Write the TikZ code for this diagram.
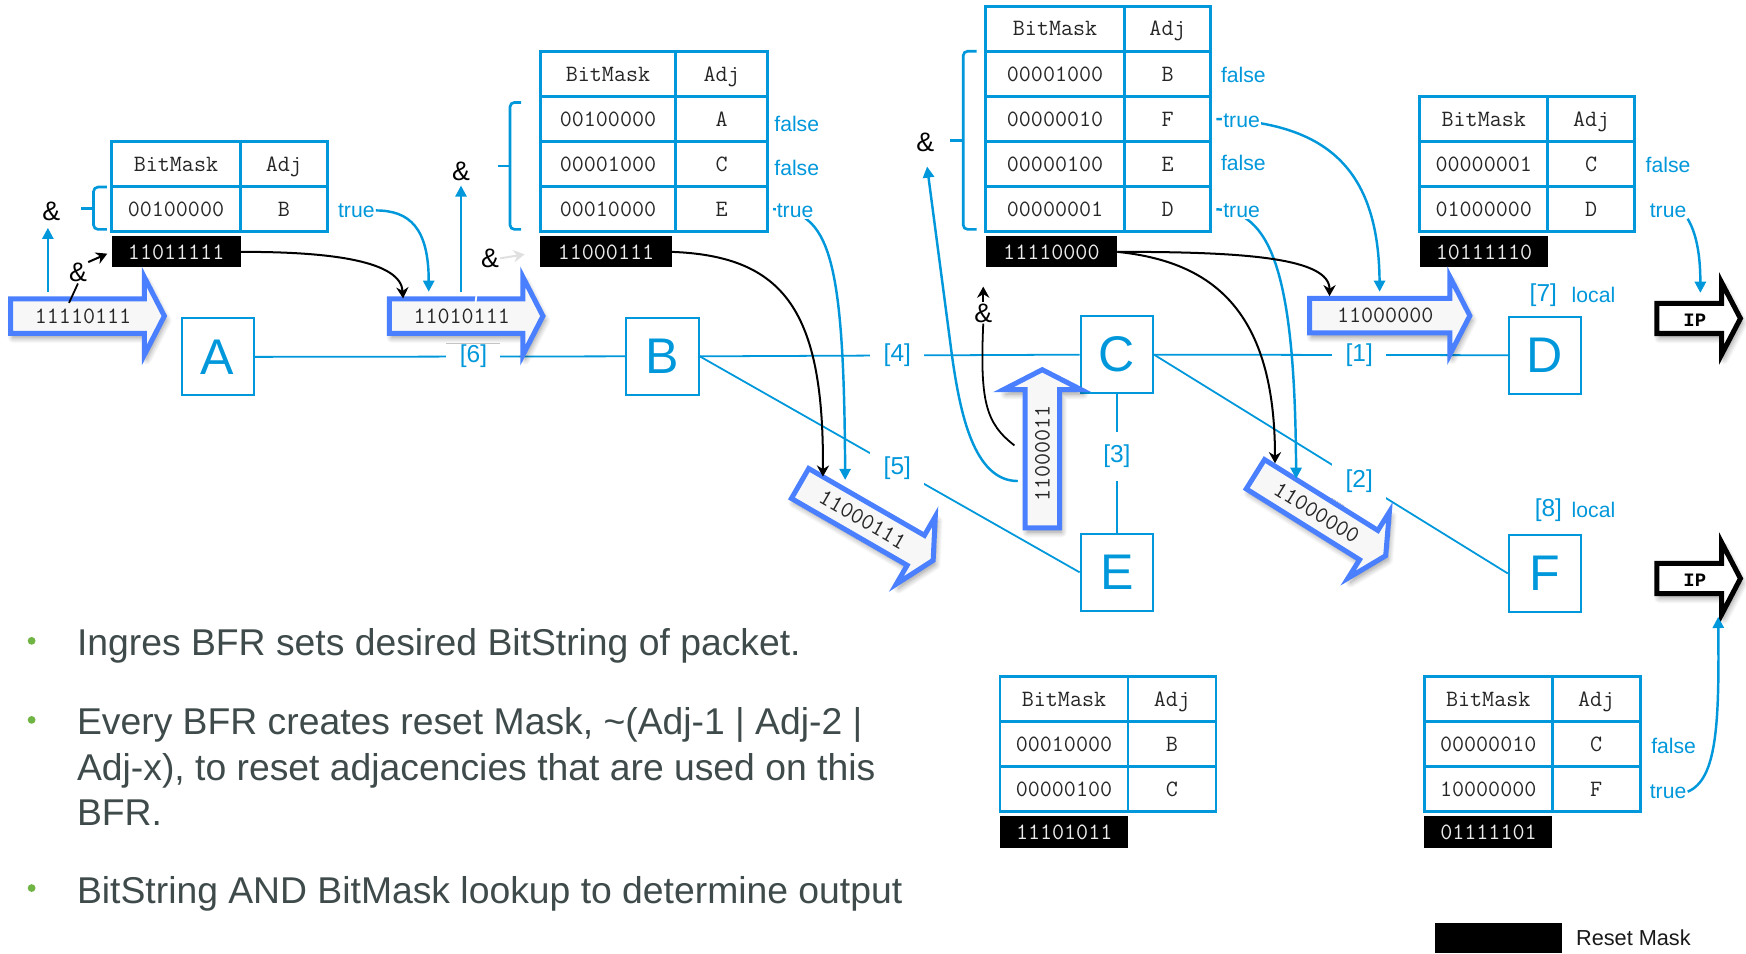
\documentclass[tikz,border=0pt]{standalone}
\usepackage{fontspec}
\setmainfont{Liberation Sans}
\newfontfamily\ipfont{Liberation Mono}
\usetikzlibrary{arrows.meta,positioning,shadows.blur}

\definecolor{bfrblue}{RGB}{0,152,219}
\definecolor{pktblue}{RGB}{74,128,255}
\definecolor{slidetext}{RGB}{63,74,74}
\definecolor{slidegreen}{RGB}{112,181,68}

\tikzset{
  bfr/.style={draw=bfrblue, line width=1.8, minimum width=65, minimum height=69,
    inner sep=0, text=bfrblue, font=\fontsize{45}{54}\selectfont},
  link/.style={draw=bfrblue, line width=1.6},
  linklabel/.style={fill=white, text=bfrblue, inner sep=12, font=\fontsize{22}{26}\selectfont},
  tabcell/.style={draw=bfrblue, line width=2.6, minimum height=40.5, inner sep=0,
    text height=13, text depth=0, text=black!85, font=\ttfamily\fontsize{21}{25}\selectfont},
  resetbox/.style={fill=black, text=white!92!black, anchor=north west, minimum height=28,
    inner sep=0, text height=13, text depth=0, font=\ttfamily\fontsize{21}{25}\selectfont},
  verdict/.style={fill=white, text=bfrblue, inner sep=1, font=\fontsize{19}{23}\selectfont},
  amp/.style={inner sep=1, font=\fontsize{24}{28}\selectfont},
  brace/.style={draw=bfrblue, line width=2.4, rounded corners=4},
  packet/.style={draw=pktblue, line width=4.5, fill=black!3,
    blur shadow={shadow xshift=2pt, shadow yshift=-4pt, shadow blur radius=5pt, shadow blur steps=8}},
  packetbits/.style={inner sep=0, text height=13, text depth=0, text=black!85,
    font=\ttfamily\fontsize{21}{25}\selectfont},
  ipshape/.style={draw=black, line width=4.5, fill=white,
    blur shadow={shadow xshift=2pt, shadow yshift=-4pt, shadow blur radius=5pt, shadow blur steps=8}},
  iplabel/.style={inner sep=0, font=\ipfont\bfseries\fontsize{17}{20}\selectfont},
  bluearrow/.style={draw=bfrblue, line width=2.2, -{Triangle[width=10pt,length=10pt]}},
  maskarrow/.style={draw=black, line width=1.8, -{Stealth[width=11pt,length=10pt]}},
  slidebullet/.style={circle, fill=slidegreen, minimum size=7, inner sep=0},
  slideitem/.style={anchor=base west, inner sep=0, text=slidetext, font=\fontsize{33.5}{40.5}\selectfont},
}

% one forwarding table: header, a row per neighbour, reset mask below
\newcommand{\bmtable}[7]{%
  \node[tabcell, minimum width={#3-#2}] (#1-h1) at ({(#2+#3)/2},{#5+20.25}) {BitMask};
  \node[tabcell, minimum width={#4-#3}] (#1-h2) at ({(#3+#4)/2},{#5+20.25}) {Adj};
  \foreach \mk/\adj [count=\i] in {#6} {
    \node[tabcell, minimum width={#3-#2}] (#1-m\i) at ({(#2+#3)/2},{#5+40.5*\i+20.25}) {\mk};
    \node[tabcell, minimum width={#4-#3}] (#1-a\i) at ({(#3+#4)/2},{#5+40.5*\i+20.25}) {\adj};
    \xdef\bmrows{\i}
  }
  \node[resetbox, minimum width={min(#3-#2,118)}] (#1-reset) at (#2,{#5+40.5*(\bmrows+1)+4}) {#7};
}

% bitstring carried by a packet copy
\newcommand{\bitarrow}[6]{%
  \begin{scope}[shift={(#2,#3)}, rotate=#4]
    \draw[packet] (0,-15.5) -- (#5,-15.5) -- (#5,-35) -- (#5+18,0) -- (#5,35) -- (#5,15.5) -- (0,15.5) -- cycle;
    \node[packetbits, rotate=#4] (#1) at ({#5/2+5},0) {#6};
  \end{scope}}

% packet leaving the BIER domain
\newcommand{\iparrow}[3]{%
  \draw[ipshape] (#2,#3-13.5) -- (#2+58,#3-13.5) -- (#2+58,#3-32.5) -- (#2+75,#3)
    -- (#2+58,#3+32.5) -- (#2+58,#3+13.5) -- (#2,#3+13.5) -- cycle;
  \node[iplabel] (#1) at (#2+34,#3+2) {IP};}

\begin{document}
\begin{tikzpicture}[x=1pt, y=-1pt]
  \useasboundingbox (0,0) rectangle (1568,856);

  % routers
  \node[bfr] (A) at (195.5,320.5) {A};
  \node[bfr] (B) at (595,320) {B};
  \node[bfr] (C) at (1003,318.5) {C};
  \node[bfr] (D) at (1387.5,319) {D};
  \node[bfr] (E) at (1003,514) {E};
  \node[bfr] (F) at (1387.5,515) {F};

  % adjacencies with their bit positions
  \draw[link] (A.east) -- node[linklabel, pos=.59] (l6) {[6]} (B.west);
  \draw[link] (B.east) -- node[linklabel, pos=.52] (l4) {[4]} (C.west);
  \draw[link] (B.east) -- node[linklabel, pos=.52] (l5) {[5]} (E.west);
  \draw[link] (C.east) -- node[linklabel, pos=.58] (l1) {[1]} (D.west);
  \draw[link] (C.east) -- node[linklabel, pos=.58] (l2) {[2]} (F.west);
  \draw[link] (C.south) -- node[linklabel, pos=.45] (l3) {[3]} (E.north);
  \node[linklabel, inner sep=1] (l7) at (1386,265) {[7]};
  \node[verdict] (local7) at (1431,265) {local};
  \node[linklabel, inner sep=1] (l8) at (1390.5,458) {[8]};
  \node[verdict] (local8) at (1431,458) {local};

  % forwarding tables
  \bmtable{tA}{100}{216}{294}{127}{00100000/B}{11011111}
  \bmtable{tB}{485}{607}{689}{46}{00100000/A, 00001000/C, 00010000/E}{11000111}
  \bmtable{tC}{885}{1010}{1087}{5.5}{00001000/B, 00000010/F, 00000100/E, 00000001/D}{11110000}
  \bmtable{tD}{1275}{1390}{1468}{86.5}{00000001/C, 01000000/D}{10111110}
  \bmtable{tE}{898}{1013}{1092}{607.5}{00010000/B, 00000100/C}{11101011}
  \bmtable{tF}{1279}{1394}{1473}{607.5}{00000010/C, 10000000/F}{01111101}

  % braces over the rows that get ANDed
  \draw[brace] (96,168) -| (84,206) -- (96,206);
  \draw[brace] (84,187) -- (73,187);
  \draw[brace] (468,92) -| (458,206) -- (468,206);
  \draw[brace] (458,149) -- (447,149);
  \draw[brace] (877,46) -| (865,206) -- (877,206);
  \draw[brace] (865,126) -- (853,126);
  \node[amp] (amp1) at (46,190) {\&};
  \node[amp] (amp2) at (70,245) {\&};
  \node[amp] (amp3) at (414,154) {\&};
  \node[amp] (amp4) at (440,232) {\&};
  \node[amp] (amp5) at (831,128) {\&};
  \node[amp] (amp6) at (883,281) {\&};

  % packet copies
  \bitarrow{p1}{9.6}{283.8}{0}{120}{11110111}
  \bitarrow{p2}{349.6}{283.8}{0}{120}{11010111}
  \bitarrow{p3}{718.5}{434.2}{-30}{120}{11000111}
  \bitarrow{p4}{936}{474}{90}{124}{11000011}
  \bitarrow{p5}{1176}{283.5}{0}{126}{11000000}
  \bitarrow{p6}{1127.4}{425.9}{-32}{120}{11000000}
  \iparrow{ip1}{1488}{286}
  \iparrow{ip2}{1488}{519.5}

  % where the connectors meet the packets
  \coordinate (p1-up) at (43,262);
  \coordinate (p1-and) at (62,272);
  \coordinate (p2-true) at (385,262);
  \coordinate (p2-mask) at (362,268);
  \coordinate (p2-up) at (414,262);
  \coordinate (p2-and) at (427,272);
  \coordinate (p3-mask) at (739,428);
  \coordinate (p3-true) at (759,431);
  \coordinate (p4-up) at (914,432);
  \coordinate (p4-and) at (911,400);
  \coordinate (p5-mask) at (1194,266);
  \coordinate (p5-true) at (1239,262);
  \coordinate (p6-mask) at (1145,416);
  \coordinate (p6-true) at (1164,430);
  \coordinate (ip1-true) at (1527,263);
  \coordinate (ip2-true) at (1543,554);

  % lookup results
  \node[verdict] (tA-v1) at (320,189) {true};
  \node[verdict] (tB-v1) at (715.5,111) {false};
  \node[verdict] (tB-v2) at (715.5,151) {false};
  \node[verdict] (tC-v1) at (1116.6,67.4) {false};
  \node[verdict] (tC-v3) at (1116.6,146.7) {false};
  \node[verdict] (tD-v1) at (1498,148) {false};
  \node[verdict] (tD-v2) at (1498,189) {true};
  \node[verdict] (tF-v1) at (1503,670) {false};
  \node[verdict] (tF-v2) at (1498,711) {true};

  % bitstring AND bitmask
  \draw[bluearrow, shorten >=5] (p1-up) -- (p1-up |- amp1.south);
  \draw[line width=1.6] (p1-and) -- (amp2.south);
  \draw[maskarrow, shorten >=4] (amp2.north east) -- (tA-reset.west);
  \draw[bluearrow, shorten >=3] (p2-up) -- (p2-up |- amp3.south);
  \draw[white, line width=1.6] (p2-and) -- (amp4.south west);
  \draw[maskarrow, draw=black!12, shorten >=14] (amp4.east) -- (tB-reset.west);
  \draw[bluearrow, shorten >=12] (p4-up) .. controls (874,432) and (862,369) .. (855,320) -- (amp5.south);
  \draw[line width=1.6] (p4-and) .. controls (885,380) and (880,360) .. (amp6.south);
  \draw[maskarrow] (amp6.north) -- ++(0,-14);

  % true: copy goes out on that adjacency
  \draw[bluearrow] (tA-v1.east) .. controls (368,189) and (385,205) .. (p2-true);
  \draw[bluearrow, shorten <=4] (tB-a3.east) .. controls (745,189) and (758,230) .. (p3-true);
  \draw[bluearrow, shorten <=4] (tC-a2.east) .. controls (1190,110) and (1238,150) .. (p5-true);
  \draw[bluearrow, shorten <=4] (tC-a4.east) .. controls (1140,190) and (1163,240) .. (p6-true);
  \draw[bluearrow] (tD-v2.south east) .. controls (1525,212) and (1527,235) .. (ip1-true);
  \draw[bluearrow] (tF-v2.east) .. controls (1542,700) and (1544,650) .. (ip2-true);

  % reset mask applied to each copy
  \draw[maskarrow] (tA-reset.east) .. controls (300,226) and (360,235) .. (p2-mask);
  \draw[maskarrow] (tB-reset.east) .. controls (705,230) and (740,280) .. (p3-mask);
  \draw[maskarrow] (tC-reset.east) .. controls (1120,226) and (1194,232) .. (p5-mask);
  \draw[maskarrow] (tC-reset.east) .. controls (1090,235) and (1145,280) .. (p6-mask);

  \node[verdict] (tB-v3) at (714,189.5) {true};
  \node[verdict] (tC-v2) at (1115,108.4) {true};
  \node[verdict] (tC-v4) at (1115,189.2) {true};

  % legend
  \node[fill=black, minimum width=114, minimum height=26.6, inner sep=0] (legend) at (1346,842.3) {};
  \node[right=12pt of legend, inner sep=0, text=black!90, font=\fontsize{19.5}{23}\selectfont] (legend-text) {Reset Mask};

  % notes
  \node[slidebullet] (b1) at (28.4,575.5) {};
  \node[slideitem] (i1) at (69,589) {Ingres BFR sets desired BitString of packet.};
  \node[slidebullet] (b2) at (28.4,646.5) {};
  \node[slideitem] (i2a) at (69,660) {Every BFR creates reset Mask, \textasciitilde(Adj-1 | Adj-2 |};
  \node[slideitem] (i2b) at (69,700.5) {Adj-x), to reset adjacencies that are used on this};
  \node[slideitem] (i2c) at (69,741) {BFR.};
  \node[slidebullet] (b3) at (28.4,797.5) {};
  \node[slideitem] (i3) at (69,811) {BitString AND BitMask lookup to determine output};
\end{tikzpicture}
\end{document}
